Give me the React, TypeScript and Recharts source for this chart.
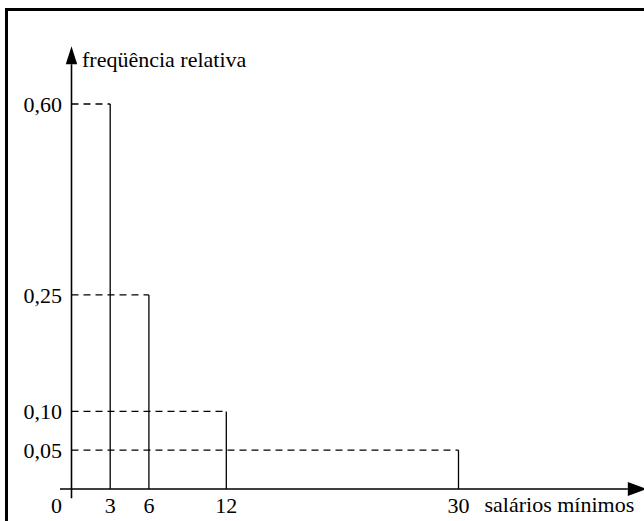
import React from "react";
import { ComposedChart, Line, ReferenceLine, XAxis, YAxis } from "recharts";

const classLimits = [0, 3, 6, 12, 30];
const relativeFreq = [0.6, 0.25, 0.1, 0.05];
const xTicks = [0, 3, 6, 12, 30];
const yTicks = [0.05, 0.1, 0.25, 0.6];
const xTitle = "salários mínimos";
const yTitle = "freqüência relativa";

const FONT = "Liberation Serif";
const FONT_SIZE = 22;

// the drawing is not to scale on y: linear up to 0.25, squeezed above it
function brokenScale(breakValue: number, breakFrac: number): any {
  let dom = [0, 1];
  let rng = [0, 1];
  const frac = (v: number) => {
    const [d0, d1] = dom;
    if (v <= breakValue) return ((v - d0) / (breakValue - d0)) * breakFrac;
    return breakFrac + ((v - breakValue) / (d1 - breakValue)) * (1 - breakFrac);
  };
  const scale: any = (v: number) => rng[0] + (rng[1] - rng[0]) * frac(Number(v));
  scale.domain = (d?: any[]) => {
    if (!d) return dom.slice();
    dom = [Number(d[0]), Number(d[d.length - 1])];
    return scale;
  };
  scale.range = (r?: any[]) => {
    if (!r) return rng.slice();
    rng = [Number(r[0]), Number(r[r.length - 1])];
    return scale;
  };
  scale.invert = (px: number) => {
    const f = (px - rng[0]) / (rng[1] - rng[0]);
    const [d0, d1] = dom;
    if (f <= breakFrac) return d0 + (f / breakFrac) * (breakValue - d0);
    return breakValue + ((f - breakFrac) / (1 - breakFrac)) * (d1 - breakValue);
  };
  scale.ticks = () => yTicks.slice();
  scale.copy = () => brokenScale(breakValue, breakFrac).domain(dom).range(rng);
  return scale;
}

const yScale = brokenScale(0.25, 0.504);

// dashed level from the y axis to the right end of each class, solid upright at the end
const levelLines = relativeFreq.map((f, i) => [
  { x: 0, y: f },
  { x: classLimits[i + 1], y: f },
]);
const uprights = relativeFreq.map((f, i) => [
  { x: classLimits[i + 1], y: 0 },
  { x: classLimits[i + 1], y: f },
]);

const arrow = (len: number, hw: number) => (props: any) => {
  const { x1, y1, x2, y2 } = props;
  const L = Math.hypot(x2 - x1, y2 - y1) || 1;
  const ux = (x2 - x1) / L;
  const uy = (y2 - y1) / L;
  const bx = x2 - ux * len;
  const by = y2 - uy * len;
  return (
    <g>
      <line x1={x1} y1={y1} x2={bx} y2={by} stroke="#000" strokeWidth={1.6} />
      <polygon
        points={`${x2},${y2} ${bx - uy * hw},${by + ux * hw} ${bx + uy * hw},${by - ux * hw}`}
        fill="#000"
      />
    </g>
  );
};

const XTick = (props: any) => {
  const { x, y, payload } = props;
  const shift = payload.value === 0 ? -15 : 0;
  return (
    <text
      x={x + shift}
      y={y}
      dy="0.71em"
      textAnchor="middle"
      fontFamily={FONT}
      fontSize={FONT_SIZE}
      fill="#000"
    >
      {payload.value}
    </text>
  );
};

const fmtY = (v: number) => v.toFixed(2).replace(".", ",");

export default function App() {
  return (
    <div
      style={{
        position: "absolute",
        left: 0,
        top: 0,
        width: 644,
        height: 521,
        overflow: "hidden",
        background: "#fff",
        fontFamily: FONT,
      }}
    >
      <div
        style={{
          position: "absolute",
          left: 5,
          top: 8,
          width: 720,
          height: 620,
          border: "3px solid #000",
        }}
      />
      <div style={{ position: "absolute", left: 0, top: 0 }}>
        <ComposedChart
          width={644}
          height={521}
          margin={{ top: 104, right: 185.5, bottom: 2, left: 0 }}
          style={{ fontFamily: FONT }}
        >
          <XAxis
            dataKey="x"
            type="number"
            domain={[0, 30]}
            ticks={xTicks}
            interval={0}
            height={30}
            axisLine={false}
            tickLine={false}
            tick={<XTick />}
            label={{
              content: (p: any) => (
                <text
                  x={p.viewBox.x + p.viewBox.width + 26}
                  y={p.viewBox.y + 22.5}
                  textAnchor="start"
                  fontFamily={FONT}
                  fontSize={FONT_SIZE}
                  fill="#000"
                >
                  {xTitle}
                </text>
              ),
            }}
          />
          <YAxis
            dataKey="y"
            type="number"
            scale={yScale}
            domain={[0, 0.6]}
            ticks={yTicks}
            interval={0}
            width={71.5}
            axisLine={false}
            tickLine={false}
            tickMargin={3.5}
            tickFormatter={fmtY}
            tick={{ fontFamily: FONT, fontSize: FONT_SIZE, fill: "#000" }}
            label={{
              content: (p: any) => (
                <text
                  x={p.viewBox.x + p.viewBox.width + 10.5}
                  y={p.viewBox.y - 37}
                  textAnchor="start"
                  fontFamily={FONT}
                  fontSize={FONT_SIZE}
                  fill="#000"
                >
                  {yTitle}
                </text>
              ),
            }}
          />
          {levelLines.map((d, i) => (
            <Line
              key={`lvl-${i}`}
              data={d}
              dataKey="y"
              type="linear"
              stroke="#000"
              strokeWidth={1.3}
              strokeDasharray="7 5"
              dot={false}
              activeDot={false}
              isAnimationActive={false}
            />
          ))}
          {uprights.map((d, i) => (
            <Line
              key={`up-${i}`}
              data={d}
              dataKey="y"
              type="linear"
              stroke="#000"
              strokeWidth={1.3}
              dot={false}
              activeDot={false}
              isAnimationActive={false}
            />
          ))}
          <ReferenceLine
            segment={[
              { x: -0.89, y: 0 },
              { x: 44.6, y: 0 },
            ]}
            ifOverflow="visible"
            shape={arrow(19, 7)}
          />
          <ReferenceLine
            segment={[
              { x: 0, y: -0.012 },
              { x: 0, y: 0.706 },
            ]}
            ifOverflow="visible"
            shape={arrow(18, 5.7)}
          />
        </ComposedChart>
      </div>
    </div>
  );
}
